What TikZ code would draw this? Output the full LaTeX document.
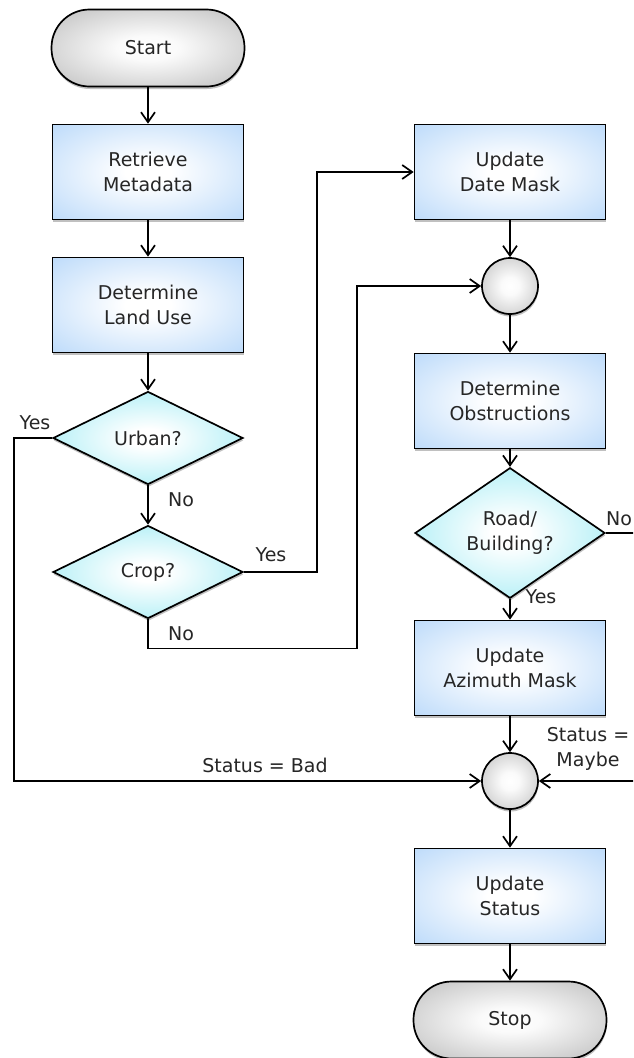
\documentclass[tikz,border=0pt]{standalone}
\usepackage{fontspec}
\setmainfont{DejaVu Sans}
\usetikzlibrary{shapes.geometric,arrows.meta,shadows}
\definecolor{boxblue}{HTML}{A2CCF8}
\definecolor{diacyan}{HTML}{8FE8F2}
\definecolor{termgray}{HTML}{A0A0A0}
\definecolor{txt}{HTML}{262626}
\pgfdeclareradialshading{boxshade}{\pgfpoint{0bp}{0bp}}{color(0bp)=(white); color(6bp)=(white); color(48bp)=(boxblue)}
\pgfdeclareradialshading{diashade}{\pgfpoint{0bp}{0bp}}{color(0bp)=(white); color(5bp)=(white); color(38bp)=(diacyan)}
\pgfdeclareradialshading{grayshade}{\pgfpoint{0bp}{0bp}}{color(0bp)=(white); color(8bp)=(white!95!termgray); color(50bp)=(termgray)}
\tikzset{
  base/.style={draw=black, line width=1.7pt, text=txt, align=center,
    font=\fontsize{19pt}{25pt}\selectfont,
    drop shadow={shadow xshift=0.5pt, shadow yshift=-2.5pt, opacity=0.35, fill=black!70}},
  process/.style={base, rectangle, shading=boxshade, minimum width=191pt, minimum height=95pt},
  decision/.style={base, diamond, shading=diashade, minimum width=190pt, minimum height=93pt, inner sep=0pt},
  terminal/.style={base, rectangle, rounded corners=38pt, shading=grayshade, minimum width=193pt, minimum height=77pt},
  junction/.style={base, circle, shading=grayshade, minimum size=56pt, inner sep=0pt},
  arr/.style={line width=1.7pt, -{Straight Barb[length=10pt,width=14pt,line width=1.7pt]}},
  plain/.style={line width=1.7pt},
  lbl/.style={text=txt, font=\fontsize{19pt}{25pt}\selectfont, align=center, inner sep=0pt}
}
\begin{document}
\begin{tikzpicture}[x=1pt,y=-1pt]
\clip (0,0) rectangle (633,1058);
\fill[white] (0,0) rectangle (633,1058);

\node[terminal] (start) at (148,48) {Start};
\node[process] (retrieve) at (148,172) {Retrieve\\Metadata};
\node[process] (landuse) at (148,305) {Determine\\Land Use};
\node[decision] (urban) at (148,438) {Urban?};
\node[decision] (crop) at (148,572) {Crop?};

\node[process] (datemask) at (510,172) {Update\\Date Mask};
\node[junction] (c1) at (510,286) {};
\node[process] (obstr) at (510,401) {Determine\\Obstructions};
\node[decision] (road) at (510,533) {Road/\\Building?};
\node[process] (azimuth) at (510,668) {Update\\Azimuth Mask};
\node[junction] (c2) at (510,781) {};
\node[process] (status) at (510,896) {Update\\Status};
\node[terminal] (stop) at (510,1020) {Stop};

\coordinate (roadout) at (645,533);
\coordinate (maybein) at (645,781);

\draw[arr] (start) -- (retrieve);
\draw[arr] (retrieve) -- (landuse);
\draw[arr] (landuse) -- (urban);
\draw[arr] (urban) -- (crop);
\draw[arr] (urban.west) -- ++(-38,0) |- (c2.west);
\draw[arr] (crop.east) -- ++(73,0) |- (datemask.west);
\draw[arr] (crop.south) -- ++(0,29) -- ++(209,0) |- (c1.west);
\draw[arr] (datemask) -- (c1);
\draw[arr] (c1) -- (obstr);
\draw[arr] (obstr) -- (road);
\draw[arr] (road) -- (azimuth);
\draw[plain] (road.east) -- (roadout);
\draw[arr] (azimuth) -- (c2);
\draw[arr] (maybein) -- (c2.east);
\draw[arr] (c2) -- (status);
\draw[arr] (status) -- (stop);

\node[lbl] (lurbanyes) at (35,423) {Yes};
\node[lbl] (lurbanno) at (181,500) {No};
\node[lbl] (lcropyes) at (271,555) {Yes};
\node[lbl] (lcropno) at (181,634) {No};
\node[lbl] (lroadno) at (619,519) {No};
\node[lbl] (lroadyes) at (541,597) {Yes};
\node[lbl] (lbad) at (265,765) {Status = Bad};
\node[lbl] (lmaybe) at (588,749) {Status =\\Maybe};
\end{tikzpicture}
\end{document}
